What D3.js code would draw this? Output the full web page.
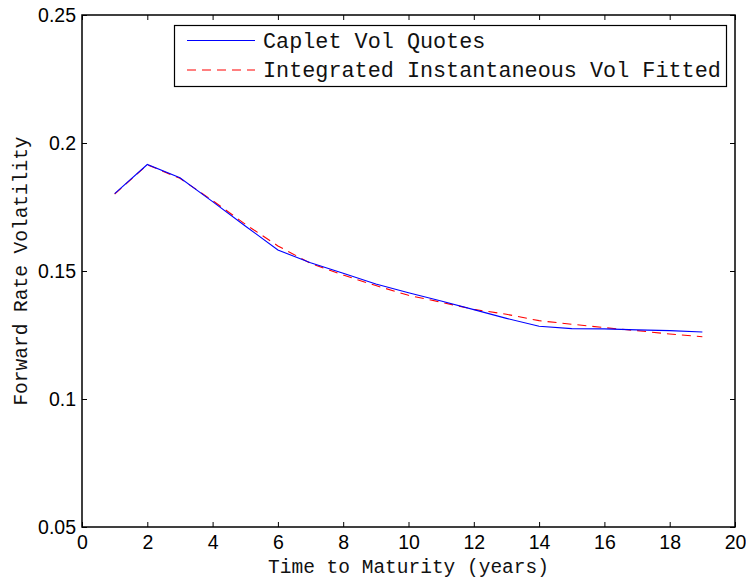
<!DOCTYPE html>
<html><head><meta charset="utf-8">
<script src="https://cdn.jsdelivr.net/npm/d3@7"></script>
<style>body{margin:0;background:#fff}svg{display:block}</style>
</head><body>
<svg id="c" width="746" height="581"></svg>
<script>
const maturities = [1,2,3,4,5,6,7,8,9,10,11,12,13,14,15,16,17,18,19];
const capletVolQuotes = [0.1802,0.1916,0.1864,0.1771,0.1676,0.1582,0.1532,0.1491,0.1449,0.1415,0.1383,0.1349,0.1315,0.1284,0.1275,0.1274,0.1270,0.1267,0.1262];
const fittedVol = [0.1800,0.1915,0.1862,0.1775,0.1683,0.1598,0.1530,0.1484,0.1443,0.1405,0.1378,0.1350,0.1331,0.1306,0.1292,0.1279,0.1267,0.1254,0.1243];
const xTicks = [0,2,4,6,8,10,12,14,16,18,20];
const yTicks = [0.05,0.1,0.15,0.2,0.25];
const yTickLabels = ["0.05","0.1","0.15","0.2","0.25"];
const seriesNames = ["Caplet Vol Quotes","Integrated Instantaneous Vol Fitted"];

(function(){
const svg = d3.select("#c");
const L=82, R=735, T=15, B=527;
const x = d3.scaleLinear().domain([0,20]).range([L,R]);
const y = d3.scaleLinear().domain([0.05,0.25]).range([B,T]);

const line = d3.line().x((d,i)=>x(maturities[i])).y(d=>y(d));
svg.append("path").datum(fittedVol).attr("d",line).attr("fill","none")
  .attr("stroke","#ff0000").attr("stroke-width",1.1).attr("stroke-dasharray","9,6");
svg.append("path").datum(capletVolQuotes).attr("d",line).attr("fill","none")
  .attr("stroke","#0000ff").attr("stroke-width",1.1);

const tick = 5;
const axB = d3.axisBottom(x).tickValues(xTicks).tickSize(-tick).tickFormat(d=>String(d)).tickPadding(8);
const axT = d3.axisTop(x).tickValues(xTicks).tickSize(-tick).tickFormat("");
const axL = d3.axisLeft(y).tickValues(yTicks).tickSize(-tick).tickFormat((d,i)=>yTickLabels[i]).tickPadding(6);
const axR = d3.axisRight(y).tickValues(yTicks).tickSize(-tick).tickFormat("");
function style(g){
  g.selectAll(".domain").remove();
  g.selectAll(".tick line").attr("stroke","#000").attr("stroke-width",1);
  g.selectAll("text").attr("fill","#000").style("font-family","'Liberation Sans',Arial,sans-serif").style("font-size","19.5px");
}
svg.append("g").attr("transform",`translate(0,${B})`).call(axB).call(style);
svg.append("g").attr("transform",`translate(0,${T})`).call(axT).call(style);
svg.append("g").attr("transform",`translate(${L},0)`).call(axL).call(style);
svg.append("g").attr("transform",`translate(${R},0)`).call(axR).call(style);
svg.append("rect").attr("x",L).attr("y",T).attr("width",R-L).attr("height",B-T)
  .attr("fill","none").attr("stroke","#000").attr("stroke-width",1.5);

const mono = "'Liberation Mono','Courier New',monospace";
svg.append("text").attr("x",(L+R)/2).attr("y",573).attr("text-anchor","middle").attr("fill","#111")
  .style("font-family",mono).style("font-size","19.5px").text("Time to Maturity (years)");
svg.append("text").attr("transform",`translate(27,${(T+B)/2}) rotate(-90)`).attr("text-anchor","middle").attr("fill","#111")
  .style("font-family",mono).style("font-size","19.5px").text("Forward Rate Volatility");

const lg = svg.append("g");
lg.append("rect").attr("x",174.5).attr("y",25.5).attr("width",552).attr("height",61)
  .attr("fill","#fff").attr("stroke","#000").attr("stroke-width",1.2);
const colors = ["#0000ff","#ff0000"], dashes=[null,"9,6"], ly=[40.5,70];
seriesNames.forEach((n,i)=>{
  lg.append("line").attr("x1",187).attr("x2",255).attr("y1",ly[i]).attr("y2",ly[i])
    .attr("stroke",colors[i]).attr("stroke-width",1.1).attr("stroke-dasharray",dashes[i]);
  lg.append("text").attr("x",263).attr("y",ly[i]+7).attr("fill","#111").style("font-family",mono).style("font-size","21.8px").text(n);
});
})();
</script>
</body></html>
